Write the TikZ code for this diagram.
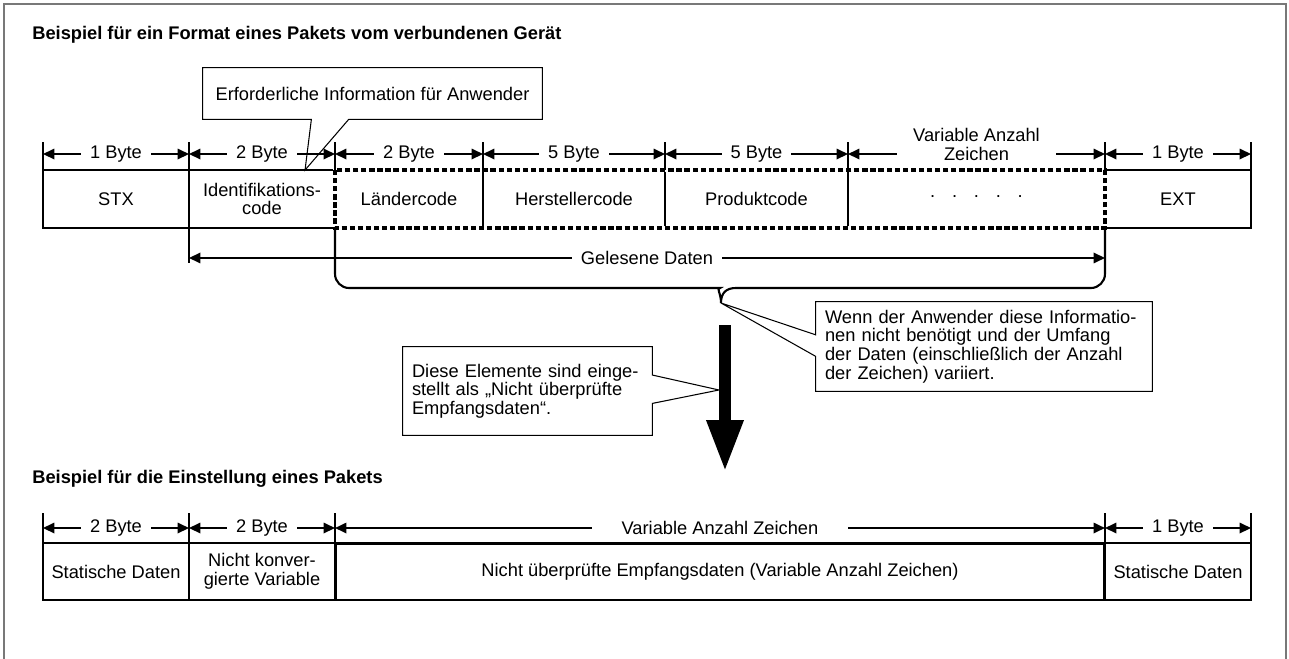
\documentclass[tikz,border=0pt]{standalone}
\usepackage{fontspec}
\setmainfont{Liberation Sans}
\usetikzlibrary{arrows.meta,calc}
\definecolor{PktFrame}{RGB}{120,120,120}
\newcommand{\pktfont}{\fontsize{10.4}{10.6}\selectfont}
\newcommand{\pkttitlefont}{\fontsize{10.4}{12}\selectfont\bfseries}
\tikzset{
  pkt/cell/.style={
    draw=black,
    line width=0.6pt,
    inner sep=0pt,
    outer sep=0pt,
    minimum height=1.16cm,
    align=center,
    font=\pktfont
  },
  pkt/inner/.style={pkt/cell, draw=none},
  pkt/readline/.style={
    draw=black,
    line width=2pt,
    dash pattern=on 3pt off 1.6pt
  },
  pkt/sep/.style={line width=0.6pt},
  pkt/tick/.style={line width=1pt},
  pkt/dim/.style={{Triangle[length=6.5pt,width=6pt]}-{Triangle[length=6.5pt,width=6pt]}, line width=0.9pt},
  pkt/dimlabel/.style={fill=white, inner xsep=5pt, inner ysep=1pt, align=center, font=\pktfont},
  pkt/brace/.style={line width=1.2pt},
  pkt/callbox/.style={fill=white, inner xsep=0.18cm, inner ysep=0pt, align=left, font=\pktfont},
  pkt/callline/.style={line width=0.6pt, line join=miter},
  pkt/bigarrow/.style={-{Triangle[length=1.04cm,width=0.68cm]}, line width=0.24cm},
  pkt/frame/.style={draw=PktFrame, line width=0.9pt},
  pkt/title/.style={anchor=base west, inner sep=0pt, font=\pkttitlefont}
}

\begin{document}
\begin{tikzpicture}[x=0.02cm,y=-0.02cm]
  \useasboundingbox (0,0) rectangle (1289,659);
  \draw[pkt/frame] (4,659) -- (4,4) -- (1286,4) -- (1286,659);

  % format of a packet from the connected device
  \node[pkt/title] (title1) at (32,39) {Beispiel für ein Format eines Pakets vom verbundenen Gerät};

  \node[pkt/cell,minimum width=2.92cm] (stx) at (116,199) {STX};
  \node[pkt/cell,minimum width=2.92cm] (ident) at (262,199) {Identifikations-\\code};
  \node[pkt/inner,minimum width=2.96cm] (land) at (409,199) {Ländercode};
  \node[pkt/inner,minimum width=3.64cm] (herst) at (574,199) {Herstellercode};
  \node[pkt/inner,minimum width=3.66cm] (prod) at (756.5,199) {Produktcode};
  \node[pkt/inner,minimum width=5.14cm] (dots) at (976.5,199) {·\hspace{9pt}·\hspace{9pt}·\hspace{9pt}·\hspace{9pt}·};
  \node[pkt/cell,minimum width=2.92cm] (ext) at (1178,199) {EXT};
  \foreach \c in {land,herst,prod}
    \draw[pkt/sep] (\c.north east) -- (\c.south east);
  \draw[white,line width=2pt] (land.north west) rectangle (dots.south east);
  \draw[pkt/readline] (land.north west) rectangle (dots.south east);

  \foreach \c in {stx,ident,land,herst,prod,dots,ext}
    \draw[pkt/tick] (\c.north west) -- ([yshift=0.56cm]\c.north west);
  \draw[pkt/tick] (ext.north east) -- ([yshift=0.56cm]ext.north east);
  \foreach \c/\t in {stx/1 Byte,ident/2 Byte,land/2 Byte,herst/5 Byte,prod/5 Byte,ext/1 Byte}
    \draw[pkt/dim] ([yshift=0.32cm]\c.north west) -- ([yshift=0.32cm]\c.north east)
      node[midway,pkt/dimlabel] {\t};
  \draw[pkt/dim] ([yshift=0.32cm]dots.north west) -- ([yshift=0.32cm]dots.north east)
    node[midway,pkt/dimlabel,inner xsep=9pt,yshift=0.19cm] {Variable Anzahl\\Zeichen};

  % read data
  \draw[pkt/tick] (ident.south west) -- ([yshift=-0.7cm]ident.south west);
  \draw[pkt/dim] ([yshift=-0.6cm]ident.south west) -- ([yshift=-0.6cm]dots.south east)
    node[midway,pkt/dimlabel] {Gelesene Daten};
  \coordinate (cusp) at (721,303);
  \draw[pkt/brace] (land.south west) [rounded corners=8pt] |- (706,288) [sharp corners]
    .. controls (716,288) and (721,293) .. (cusp)
    .. controls (721,293) and (726,288) .. (736,288) [rounded corners=8pt] -| (dots.south east);

  % callouts
  \coordinate (infotip) at ($(ident.north west)!0.795!(ident.north east)$);
  \node[pkt/callbox,align=center,minimum width=6.78cm,minimum height=1.02cm] (info) at (372.5,93.5)
    {Erforderliche Information für Anwender};
  \draw[pkt/callline] (info.south west) -- ($(info.south west)!0.32!(info.south east)$) -- (infotip)
    -- ($(info.south west)!0.43!(info.south east)$) -- (info.south east) -- (info.north east)
    -- (info.north west) -- cycle;

  \node[pkt/callbox,text width=6.36cm,minimum height=1.78cm] (note) at (984,346.5)
    {Wenn der Anwender diese Informatio-\\nen nicht benötigt und der Umfang\\der Daten (einschließlich der Anzahl\\der Zeichen) variiert.};
  \draw[pkt/callline] (note.north west) -- ($(note.north west)!0.37!(note.south west)$) -- (cusp)
    -- ($(note.north west)!0.61!(note.south west)$) -- (note.south west) -- (note.south east)
    -- (note.north east) -- cycle;

  \coordinate (flowtop) at (725,325);
  \coordinate (flowend) at (725,472);
  \draw[pkt/bigarrow] (flowtop) -- (flowend);

  \coordinate (elemtip) at (719,390);
  \node[pkt/callbox,text width=4.62cm,minimum height=1.76cm] (elem) at (527.5,391)
    {Diese Elemente sind einge-\\stellt als „Nicht überprüfte\\Empfangsdaten“.};
  \draw[pkt/callline] (elem.north east) -- ($(elem.north east)!0.32!(elem.south east)$) -- (elemtip)
    -- ($(elem.north east)!0.64!(elem.south east)$) -- (elem.south east) -- (elem.south west)
    -- (elem.north west) -- cycle;

  % setting of a packet
  \node[pkt/title] (title2) at (32,483) {Beispiel für die Einstellung eines Pakets};

  \node[pkt/cell,minimum width=2.92cm,minimum height=1.14cm] (stat1) at (116,571.5) {Statische Daten};
  \node[pkt/cell,minimum width=2.92cm,minimum height=1.14cm] (nkv) at (262,571.5) {Nicht konver-\\gierte Variable};
  \node[pkt/cell,minimum width=2.92cm,minimum height=1.14cm] (stat2) at (1178,571.5) {Statische Daten};
  \node[pkt/cell,line width=1.7pt,minimum width=15.4cm,minimum height=1.14cm] (nued) at (720,571.5)
    {Nicht überprüfte Empfangsdaten (Variable Anzahl Zeichen)};

  \foreach \c in {stat1,nkv,nued,stat2}
    \draw[pkt/tick] (\c.north west) -- ([yshift=0.6cm]\c.north west);
  \draw[pkt/tick] (stat2.north east) -- ([yshift=0.6cm]stat2.north east);
  \foreach \c/\t in {stat1/2 Byte,nkv/2 Byte,stat2/1 Byte}
    \draw[pkt/dim] ([yshift=0.3cm]\c.north west) -- ([yshift=0.3cm]\c.north east)
      node[midway,pkt/dimlabel] {\t};
  \draw[pkt/dim] ([yshift=0.3cm]nued.north west) -- ([yshift=0.3cm]nued.north east)
    node[midway,pkt/dimlabel,inner xsep=17pt] {Variable Anzahl Zeichen};
\end{tikzpicture}
\end{document}
